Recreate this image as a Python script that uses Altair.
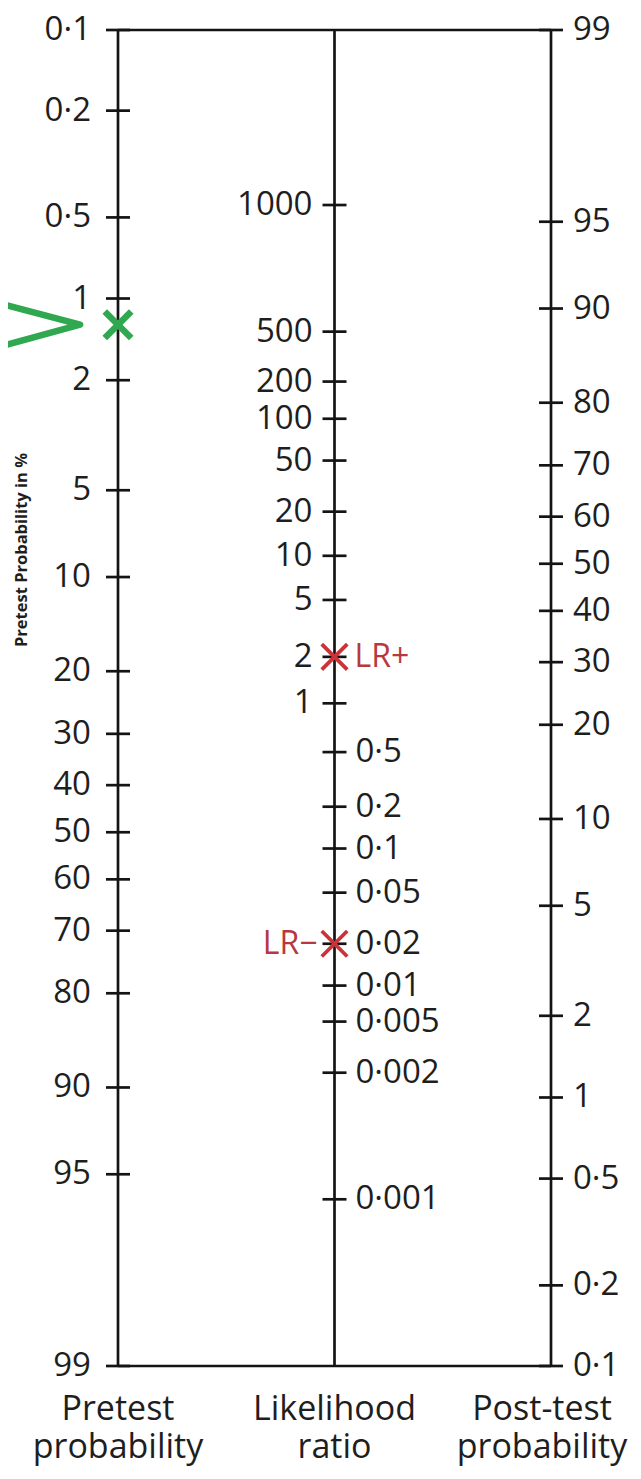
import altair as alt
import numpy as np
import pandas as pd

# ---------------- data ----------------
# Left axis: pretest probability (%)
pre_values = [0.1, 0.2, 0.5, 1, 2, 5, 10, 20, 30, 40, 50, 60, 70, 80, 90, 95, 99]
pre_labels = ["0·1", "0·2", "0·5", "1", "2", "5", "10", "20", "30", "40",
              "50", "60", "70", "80", "90", "95", "99"]

# Right axis: post-test probability (%)
post_values = [99, 95, 90, 80, 70, 60, 50, 40, 30, 20, 10, 5, 2, 1, 0.5, 0.2, 0.1]
post_labels = ["99", "95", "90", "80", "70", "60", "50", "40", "30", "20",
               "10", "5", "2", "1", "0·5", "0·2", "0·1"]

# Middle axis: likelihood ratio, with each tick's place on the nomogram's
# logit scale
lr_values = [1000, 500, 200, 100, 50, 20, 10, 5, 2, 1,
             0.5, 0.2, 0.1, 0.05, 0.02, 0.01, 0.005, 0.002, 0.001]
lr_labels = ["1000", "500", "200", "100", "50", "20", "10", "5", "2", "1",
             "0·5", "0·2", "0·1", "0·05", "0·02", "0·01", "0·005", "0·002", "0·001"]
lr_scale_pos = [-5.40, -4.31, -3.88, -3.56, -3.20, -2.76, -2.38, -2.00, -1.51, -1.11,
                -0.69, -0.22, 0.14, 0.52, 0.96, 1.32, 1.63, 2.07, 3.16]

# Marked likelihood ratios
marker_names = ["LR+", "LR−"]
marker_lr = [2, 0.02]

# Marked pretest probability (%) and the arrow pointing at it
pretest_marker = 1.25
arrow_col = [-0.55, -0.175, -0.55]
arrow_pct = [1.04, 1.25, 1.51]

column_titles = ["Pretest\nprobability", "Likelihood\nratio", "Post-test\nprobability"]
side_title = "Pretest Probability in %"

# ---------------- build tables ----------------
def logit(pct):
    pct = np.asarray(pct, dtype=float)
    return np.log(pct / (100.0 - pct))

LO = float(logit(0.1))
HI = float(logit(99))

rows = []
for v, lab in zip(pre_values, pre_labels):
    rows.append({"col": 0, "pos": float(logit(v)), "label": lab, "group": "pre"})
for v, lab, p in zip(lr_values, lr_labels, lr_scale_pos):
    rows.append({"col": 1, "pos": p, "label": lab, "group": "lr_hi" if v >= 1 else "lr_lo"})
for v, lab in zip(post_values, post_labels):
    rows.append({"col": 2, "pos": LO + HI - float(logit(v)), "label": lab, "group": "post"})
ticks_df = pd.DataFrame(rows)

axes_df = pd.DataFrame({"col": [0, 1, 2], "top": [LO] * 3, "bottom": [HI] * 3})
frame_df = pd.DataFrame({"pos": [LO, HI], "start": [0, 0], "end": [2, 2]})

lr_lookup = dict(zip(lr_values, lr_scale_pos))
marker_df = pd.DataFrame({"col": [1, 1], "pos": [lr_lookup[v] for v in marker_lr],
                          "label": marker_names})
pre_df = pd.DataFrame({"col": [0], "pos": [float(logit(pretest_marker))]})
arrow_df = pd.DataFrame({"col": arrow_col, "pos": logit(arrow_pct), "idx": [0, 1, 2]})
titles_df = pd.DataFrame({"col": [0, 1, 2], "pos": [HI] * 3, "label": column_titles})
side_df = pd.DataFrame({"label": [side_title]})

# ---------------- styles ----------------
INK = "#141414"
TXT = "#1e1e1e"
RED = "#cc3338"
RED_TXT = "#b8393d"
GREEN = "#2fa84f"
FONT = "Open Sans"
XSHAPE = "M-1,-1L1,1M-1,1L1,-1"

UMIN = -(118 - 8) / 216.5
UMAX = UMIN + 625 / 216.5
xscale = alt.Scale(domain=[UMIN, UMAX], nice=False, zero=False)
yscale = alt.Scale(domain=[LO, HI], reverse=True, nice=False, zero=False)


def X(field="col"):
    return alt.X(f"{field}:Q", scale=xscale, axis=None)


def Y(field="pos"):
    return alt.Y(f"{field}:Q", scale=yscale, axis=None)


axis_lines = alt.Chart(axes_df).mark_rule(color=INK, strokeWidth=2.7).encode(
    x=X(), y=Y("top"), y2="bottom:Q")

frame_lines = alt.Chart(frame_df).mark_rule(color=INK, strokeWidth=2.7).encode(
    x=X("start"), x2="end:Q", y=Y())

ticks = alt.Chart(ticks_df).mark_tick(
    orient="horizontal", size=24, thickness=2.7, color=INK, opacity=1
).encode(x=X(), y=Y())


def label_layer(group, align, dx):
    return alt.Chart(ticks_df).transform_filter(alt.datum.group == group).mark_text(
        align=align, baseline="middle", dx=dx, font=FONT, fontSize=33, color=TXT
    ).encode(x=X(), y=Y(), text="label:N")


pre_text = label_layer("pre", "right", -27)
lr_hi_text = label_layer("lr_hi", "right", -22)
lr_lo_text = label_layer("lr_lo", "left", 21)
post_text = label_layer("post", "left", 22)

lr_marks = alt.Chart(marker_df).mark_point(
    shape=XSHAPE, size=650, filled=False, strokeWidth=3.8, color=RED, opacity=1
).encode(x=X(), y=Y())

lr_plus_text = alt.Chart(marker_df).transform_filter(alt.datum.label == "LR+").mark_text(
    align="left", baseline="middle", dx=20, font=FONT, fontSize=32, color=RED_TXT
).encode(x=X(), y=Y(), text="label:N")

lr_minus_text = alt.Chart(marker_df).transform_filter(alt.datum.label == "LR−").mark_text(
    align="right", baseline="middle", dx=-17, font=FONT, fontSize=32, color=RED_TXT
).encode(x=X(), y=Y(), text="label:N")

arrow = alt.Chart(arrow_df).mark_line(
    color=GREEN, strokeWidth=6.5, strokeJoin="round", strokeCap="butt"
).encode(x=X(), y=Y(), order="idx:Q")

pre_mark = alt.Chart(pre_df).mark_point(
    shape=XSHAPE, size=700, filled=False, strokeWidth=6.5, color=GREEN, opacity=1
).encode(x=X(), y=Y())


def title_layer(cols, dx):
    return alt.Chart(titles_df).transform_filter(
        alt.FieldOneOfPredicate(field="col", oneOf=cols)
    ).mark_text(
        align="center", baseline="top", dy=27, dx=dx, lineBreak="\n", lineHeight=38,
        font=FONT, fontSize=34, color=TXT
    ).encode(x=X(), y=Y(), text="label:N")


titles_lr = title_layer([0, 1], 0)
titles_right = title_layer([2], -9)

side_text = alt.Chart(side_df).mark_text(
    angle=270, align="center", baseline="middle", font=FONT, fontSize=16.5,
    fontWeight="bold", color=TXT
).encode(x=alt.value(14), y=alt.value(520), text="label:N")

chart = alt.layer(
    axis_lines, frame_lines, ticks, pre_text, lr_hi_text, lr_lo_text, post_text,
    lr_marks, lr_plus_text, lr_minus_text, arrow, pre_mark, titles_lr, titles_right,
    side_text,
).properties(
    width=625, height=1336,
    padding={"left": 0, "top": 22, "right": 0, "bottom": 101},
    autosize=alt.AutoSizeParams(type="none"),
    background="white",
).configure_view(stroke=None)

chart.save("out.html", embed_options={"renderer": "svg", "actions": False})
